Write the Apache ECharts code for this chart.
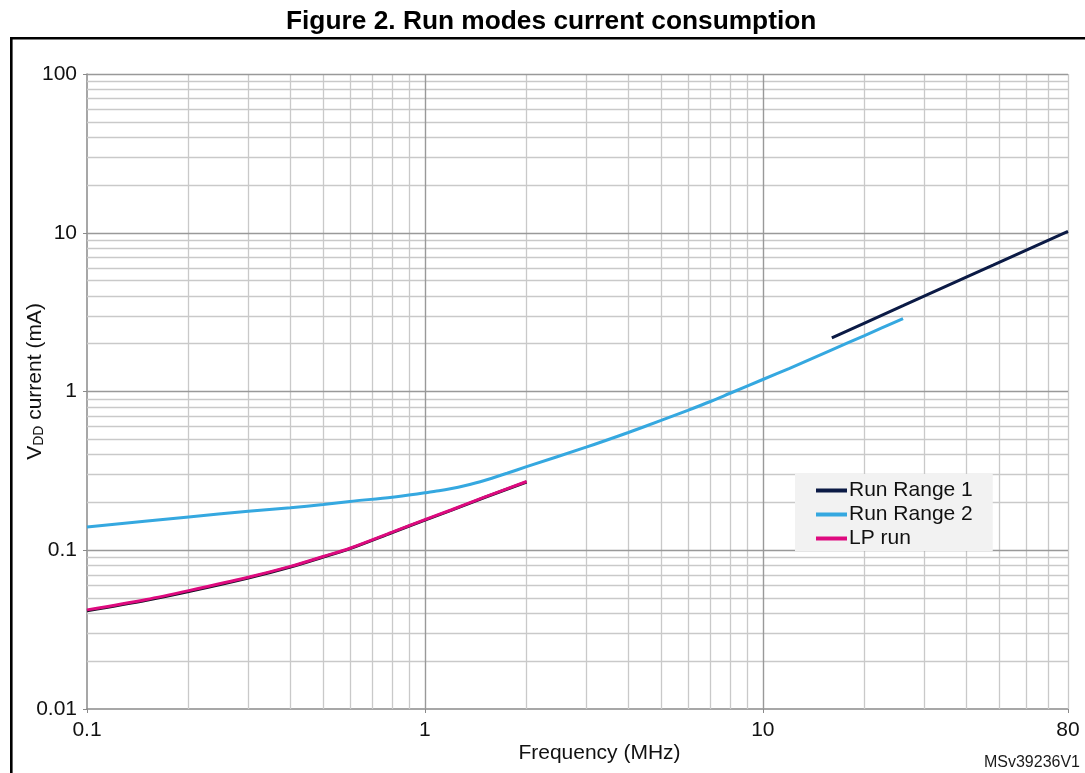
<!DOCTYPE html>
<html>
<head>
<meta charset="utf-8">
<script src="https://cdn.jsdelivr.net/npm/echarts@6/dist/echarts.min.js"></script>
<style>
  html, body { margin: 0; padding: 0; background: #fff; }
  #chart { width: 1085px; height: 773px; }
</style>
</head>
<body>
<div id="chart"></div>
<script>
// Frequency (MHz) / current (mA) samples for each run mode
const lpFreq = [0.1, 0.15, 0.2, 0.3, 0.4, 0.5, 0.6, 0.8, 1.0, 1.2, 1.5, 2.0];
const lpRun = [0.0421, 0.049, 0.0557, 0.0676, 0.0791, 0.0913, 0.103, 0.130, 0.156, 0.180, 0.216, 0.271];
const range1LowRun = [0.0415, 0.0484, 0.0549, 0.0668, 0.0784, 0.0906, 0.1024, 0.1293, 0.155, 0.179, 0.215, 0.269];

const range2Freq = [0.1, 0.2, 0.3, 0.4, 0.5, 0.6, 0.8, 1.0, 1.1, 1.2, 1.3, 1.5, 1.75, 2, 3, 4, 5, 6, 7, 8, 10, 12, 16, 20, 26];
const range2Run = [0.140, 0.162, 0.176, 0.185, 0.194, 0.203, 0.216, 0.230, 0.2367, 0.2447, 0.2539, 0.2751, 0.3055, 0.336, 0.446, 0.552, 0.657, 0.761, 0.865, 0.975, 1.19, 1.40, 1.83, 2.25, 2.88];

const range1Freq = [16, 20, 26, 32, 40, 48, 64, 80];
const range1Run = [2.18, 2.70, 3.47, 4.24, 5.25, 6.25, 8.24, 10.2];

// Grid lines of the log-log paper
const xMajorGrid = [1, 10];
const xMinorGrid = [0.2, 0.3, 0.4, 0.5, 0.6, 0.7, 0.8, 0.9, 2, 3, 4, 5, 6, 7, 8, 9, 20, 30, 40, 50, 60, 70, 80];
const yMajorGrid = [0.1, 1, 10, 100];
const yMinorGrid = [0.02, 0.03, 0.04, 0.05, 0.06, 0.07, 0.08, 0.09,
                    0.2, 0.3, 0.4, 0.5, 0.6, 0.7, 0.8, 0.9,
                    2, 3, 4, 5, 6, 7, 8, 9,
                    20, 30, 40, 50, 60, 70, 80, 90];

const legendNames = ['Run Range 1', 'Run Range 2', 'LP run'];
const FONT = 'Liberation Sans, Arial, sans-serif';
const NAVY = '#0b1a45';
const BLUE = '#35a8e0';
const PINK = '#de0a7f';

const pairs = (xs, ys) => xs.map((x, i) => [x, ys[i]]);
const tickText = v => String(+Number(v).toPrecision(3));

const chart = echarts.init(document.getElementById('chart'), null, { renderer: 'canvas' });

chart.setOption({
  backgroundColor: '#ffffff',
  animation: false,
  title: {
    text: 'Figure 2. Run modes current consumption',
    left: 281,
    top: 4,
    textStyle: { fontFamily: FONT, fontSize: 26.3, fontWeight: 'bold', color: '#000' }
  },
  graphic: [
    {
      type: 'rect',
      shape: { x: 11.3, y: 38.3, width: 1200, height: 900 },
      style: { fill: 'none', stroke: '#000', lineWidth: 2.6 },
      silent: true, z: 10
    },
    {
      type: 'text',
      right: 5, top: 755,
      style: { text: 'MSv39236V1', font: '16px ' + FONT, fill: '#1a1a1a' }
    }
  ],
  grid: { left: 87, top: 74, right: 17, bottom: 64, containLabel: false, outerBoundsMode: 'none' },
  legend: {
    data: legendNames,
    orient: 'vertical',
    left: 795, top: 474,
    padding: [6, 20, 2, 21],
    itemGap: 3,
    itemWidth: 31,
    itemHeight: 18,
    backgroundColor: '#f2f2f2',
    icon: 'path://M0,0 L31,0 L31,4 L0,4 Z',
    textStyle: { fontFamily: FONT, fontSize: 21, color: '#111', padding: [0, 0, 0, -3] }
  },
  xAxis: {
    type: 'log',
    logBase: 10,
    min: 0.1, max: 80,
    name: 'Frequency (MHz)',
    nameLocation: 'middle',
    nameGap: 34,
    nameMoveOverlap: false,
    nameTextStyle: { fontFamily: FONT, fontSize: 21, color: '#111', padding: [0, 0, 0, 44] },
    axisLine: { lineStyle: { color: '#8a8a8a', width: 1.5 } },
    axisTick: { length: 4, lineStyle: { color: '#8a8a8a' } },
    axisLabel: { fontFamily: FONT, fontSize: 21, color: '#111', margin: 11, formatter: tickText },
    splitLine: { show: false },
    minorTick: { show: false }
  },
  yAxis: {
    type: 'log',
    logBase: 10,
    min: 0.01, max: 100,
    name: '{v|V}{s|DD}{v| current (mA)}',
    nameLocation: 'middle',
    nameGap: 41,
    nameMoveOverlap: false,
    nameTextStyle: {
      fontFamily: FONT, color: '#111',
      padding: [0, 0, 0, 20],
      rich: {
        v: { fontFamily: FONT, fontSize: 21, lineHeight: 22, color: '#111' },
        s: { fontFamily: FONT, fontSize: 14, lineHeight: 14, color: '#111', verticalAlign: 'bottom', padding: [6, 0, 0, 0] }
      }
    },
    axisLine: { lineStyle: { color: '#8a8a8a', width: 1.5 } },
    axisTick: { length: 4, lineStyle: { color: '#8a8a8a' } },
    axisLabel: { fontFamily: FONT, fontSize: 21, color: '#111', margin: 10, formatter: tickText },
    splitLine: { show: false },
    minorTick: { show: false }
  },
  series: [
    {
      name: 'paper',
      type: 'line',
      data: [[0.1, 0.01]],
      symbol: 'none',
      lineStyle: { opacity: 0 },
      silent: true,
      z: 1,
      markLine: {
        z: 1,
        silent: true,
        symbol: ['none', 'none'],
        label: { show: false },
        emphasis: { disabled: true },
        animation: false,
        data: [
          ...xMinorGrid.map(v => ({ xAxis: v, lineStyle: { color: '#c9c9c9', width: 1.3, type: 'solid' } })),
          ...yMinorGrid.map(v => ({ yAxis: v, lineStyle: { color: '#c9c9c9', width: 1.3, type: 'solid' } })),
          ...xMajorGrid.map(v => ({ xAxis: v, lineStyle: { color: '#999999', width: 1.4, type: 'solid' } })),
          ...yMajorGrid.map(v => ({ yAxis: v, lineStyle: { color: '#999999', width: 1.4, type: 'solid' } }))
        ]
      }
    },
    {
      name: 'Run Range 1',
      type: 'line',
      data: pairs(lpFreq, range1LowRun),
      symbol: 'none',
      smooth: 0.3,
      color: NAVY,
      lineStyle: { color: '#111122', width: 3 },
      z: 3
    },
    {
      name: 'Run Range 1',
      type: 'line',
      data: pairs(range1Freq, range1Run),
      symbol: 'none',
      color: NAVY,
      lineStyle: { color: NAVY, width: 3 },
      z: 3
    },
    {
      name: 'Run Range 2',
      type: 'line',
      data: pairs(range2Freq, range2Run),
      symbol: 'none',
      smooth: 0.3,
      color: BLUE,
      lineStyle: { color: BLUE, width: 3 },
      z: 3
    },
    {
      name: 'LP run',
      type: 'line',
      data: pairs(lpFreq, lpRun),
      symbol: 'none',
      smooth: 0.3,
      color: PINK,
      lineStyle: { color: PINK, width: 3 },
      z: 4
    }
  ]
});
</script>
</body>
</html>
